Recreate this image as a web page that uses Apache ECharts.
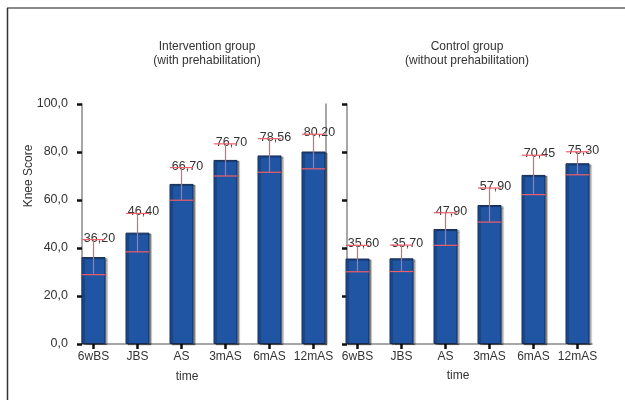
<!DOCTYPE html>
<html>
<head>
<meta charset="utf-8">
<script src="https://cdn.jsdelivr.net/npm/echarts@6/dist/echarts.min.js"></script>
<style>html,body{margin:0;padding:0;background:#fff}#c{width:625px;height:400px}</style>
</head>
<body>
<div id="c"></div>
<script>
const categories = ['6wBS', 'JBS', 'AS', '3mAS', '6mAS', '12mAS'];
const interventionMeans = [36.20, 46.40, 66.70, 76.70, 78.56, 80.20];
const interventionSD = [7.3, 8.0, 6.8, 6.7, 7.0, 7.2];
const controlMeans = [35.60, 35.70, 47.90, 57.90, 70.45, 75.30];
const controlSD = [5.5, 5.5, 6.8, 7.1, 8.2, 4.8];
const yTicks = [0, 20, 40, 60, 80, 100];
const panelTitles = [['Intervention group', '(with prehabilitation)'], ['Control group', '(without prehabilitation)']];
const xAxisName = 'time';
const yAxisName = 'Knee Score';

const FONT = 'Liberation Sans, Arial, sans-serif';
const TXT = '#333';
const AXIS_GRAY = '#8a8a8a';

function fmt1(v) { return v.toFixed(1).replace('.', ','); }
function fmt2(v) { return v.toFixed(2).replace('.', ','); }

function errData(means, sd) {
  return means.map((m, i) => [i, m, m - sd[i], m + sd[i]]);
}

function errRender(params, api) {
  const i = api.value(0), mean = api.value(1), lo = api.value(2), hi = api.value(3);
  const pHi = api.coord([i, hi]);
  const pLo = api.coord([i, lo]);
  const half = 11.5;
  const st = { stroke: '#ee5f6b', lineWidth: 1.2 };
  return {
    type: 'group',
    children: [
      { type: 'text', x: pHi[0] + 6, y: pHi[1] - 1.5,
        style: { text: fmt2(mean), align: 'center', verticalAlign: 'middle', fontSize: 12.5, fontFamily: FONT, fill: TXT } },
      { type: 'line', shape: { x1: pHi[0], y1: pHi[1], x2: pLo[0], y2: pLo[1] }, style: st },
      { type: 'line', shape: { x1: pHi[0] - half, y1: pHi[1], x2: pHi[0] + half, y2: pHi[1] }, style: st },
      { type: 'line', shape: { x1: pLo[0] - half, y1: pLo[1], x2: pLo[0] + half, y2: pLo[1] }, style: st }
    ]
  };
}

const TOP = 104, H = 240;
const grids = [
  { left: 71.5, top: TOP, width: 264, height: H },   // 0 left bars
  { left: 82, top: TOP, width: 244, height: H },     // 1 left frame
  { left: 335.5, top: TOP, width: 264, height: H },  // 2 right bars
  { left: 347, top: TOP, width: 245, height: H }     // 3 right frame
];

function barXAxis(gi) {
  return {
    type: 'category', gridIndex: gi, data: categories,
    axisLine: { show: false },
    axisTick: { show: true, alignWithLabel: true, interval: 0, length: 5, lineStyle: { color: '#111', width: 2.5 } },
    axisLabel: { interval: 0, margin: 7, fontSize: 12, fontFamily: FONT, color: TXT },
    splitLine: { show: false }
  };
}
function frameXAxis(gi) {
  return {
    type: 'value', gridIndex: gi, min: 0, max: 1,
    axisLine: { show: true, lineStyle: { color: AXIS_GRAY, width: 1.5 } },
    axisTick: { show: false }, axisLabel: { show: false }, splitLine: { show: false }
  };
}
function hiddenY(gi) {
  return { type: 'value', gridIndex: gi, min: 0, max: 100, interval: 20, show: false };
}
function frameY(gi, showLabels) {
  return {
    type: 'value', gridIndex: gi, min: 0, max: 100, interval: 20, position: 'left',
    axisLine: { show: true, lineStyle: { color: AXIS_GRAY, width: 1.5 } },
    axisTick: { show: true, inside: false, length: 5, lineStyle: { color: '#111', width: 2.5 } },
    axisLabel: { show: showLabels, margin: 14, fontSize: 12.5, fontFamily: FONT, color: TXT,
      formatter: v => yTicks.includes(v) ? fmt1(v) : '' },
    splitLine: { show: false }
  };
}

const barStyle = {
  color: '#1f55a3', borderColor: '#172a50', borderWidth: 1,
  shadowColor: 'rgba(0,0,0,0.38)', shadowOffsetX: 2, shadowOffsetY: 1, shadowBlur: 1
};

const option = {
  animation: false,
  backgroundColor: '#fff',
  grid: grids,
  xAxis: [barXAxis(0), frameXAxis(1), barXAxis(2), frameXAxis(3)],
  yAxis: [
    hiddenY(0),
    frameY(1, true),
    { type: 'value', gridIndex: 1, min: 0, max: 100, position: 'right',
      axisLine: { show: true, lineStyle: { color: AXIS_GRAY, width: 1.5 } },
      axisTick: { show: false }, axisLabel: { show: false }, splitLine: { show: false } },
    hiddenY(2),
    frameY(3, false)
  ],
  series: [
    { type: 'bar', xAxisIndex: 0, yAxisIndex: 0, data: interventionMeans, barWidth: 24, itemStyle: barStyle, z: 2 },
    { type: 'custom', xAxisIndex: 0, yAxisIndex: 0, data: errData(interventionMeans, interventionSD),
      encode: { x: 0, y: 1 }, renderItem: errRender, z: 5 },
    { type: 'bar', xAxisIndex: 2, yAxisIndex: 3, data: controlMeans, barWidth: 24, itemStyle: barStyle, z: 2 },
    { type: 'custom', xAxisIndex: 2, yAxisIndex: 3, data: errData(controlMeans, controlSD),
      encode: { x: 0, y: 1 }, renderItem: errRender, z: 5 }
  ],
  graphic: [
    { type: 'line', shape: { x1: 7, y1: 8, x2: 625, y2: 8 }, style: { stroke: '#8a8a8a', lineWidth: 2 } },
    { type: 'line', shape: { x1: 7.5, y1: 8, x2: 7.5, y2: 400 }, style: { stroke: '#333', lineWidth: 1.5 } },
    { type: 'text', x: 207, y: 47, style: { text: panelTitles[0][0], align: 'center', verticalAlign: 'middle', fontSize: 12, fontFamily: FONT, fill: TXT } },
    { type: 'text', x: 207, y: 60.5, style: { text: panelTitles[0][1], align: 'center', verticalAlign: 'middle', fontSize: 12, fontFamily: FONT, fill: TXT } },
    { type: 'text', x: 467, y: 47, style: { text: panelTitles[1][0], align: 'center', verticalAlign: 'middle', fontSize: 12, fontFamily: FONT, fill: TXT } },
    { type: 'text', x: 467, y: 60.5, style: { text: panelTitles[1][1], align: 'center', verticalAlign: 'middle', fontSize: 12, fontFamily: FONT, fill: TXT } },
    { type: 'text', x: 187, y: 377, style: { text: xAxisName, align: 'center', verticalAlign: 'middle', fontSize: 12, fontFamily: FONT, fill: TXT } },
    { type: 'text', x: 458, y: 376, style: { text: xAxisName, align: 'center', verticalAlign: 'middle', fontSize: 12, fontFamily: FONT, fill: TXT } },
    { type: 'text', x: 29, y: 176, rotation: Math.PI / 2, style: { text: yAxisName, align: 'center', verticalAlign: 'middle', fontSize: 12, fontFamily: FONT, fill: TXT } }
  ]
};

const chart = echarts.init(document.getElementById('c'), null, { renderer: 'canvas' });
chart.setOption(option);
</script>
</body>
</html>
